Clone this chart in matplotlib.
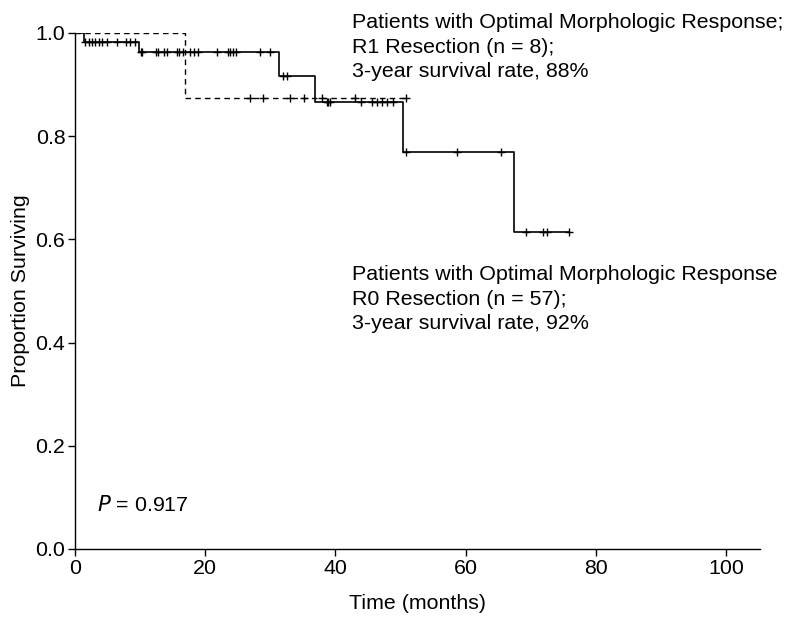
import numpy as np
import matplotlib.pyplot as plt

plt.rcParams['font.family'] = ['Liberation Sans', 'DejaVu Sans']

# R0 resection (solid): step times and survival after each step
r0_times = [0, 1.4, 9.8, 31.3, 36.8, 50.4, 67.4, 75.8]
r0_surv = [1.0, 0.983, 0.963, 0.917, 0.866, 0.770, 0.615, 0.615]
r0_censored = [1.6, 2.2, 2.6, 3.1, 3.7, 4.1, 4.9, 6.4, 7.9, 8.4, 9.2,
               10.1, 10.3, 12.5, 12.8, 13.6, 14.1, 15.6, 15.9, 16.6, 17.7,
               18.2, 18.9, 21.8, 23.5, 23.8, 24.3, 24.8, 28.4, 30.0,
               32.0, 32.5,
               38.7, 38.9, 39.2, 43.9, 45.6, 46.4, 47.1, 47.9, 48.9,
               50.8, 58.6, 65.4,
               69.3, 71.8, 72.5, 75.8]

# R1 resection (dashed)
r1_times = [0, 16.9, 50.8]
r1_surv = [1.0, 0.875, 0.875]
r1_censored = [26.9, 28.8, 33.0, 35.1, 37.9, 43.0, 50.8]


def level_at(times, surv, t):
    idx = np.searchsorted(times, t, side='right') - 1
    return np.array(surv)[idx]


fs = 15.4

fig = plt.figure(figsize=(7.91, 6.21), dpi=100)
ax = fig.add_axes([75 / 791, 1 - 549 / 621, 685 / 791, 516 / 621])

ax.step(r0_times, r0_surv, where='post', color='black', lw=1.2)
ax.plot(r0_censored, level_at(r0_times, r0_surv, r0_censored), '+',
        color='black', ms=6, mew=1)

ax.step(r1_times, r1_surv, where='post', color='black', lw=1.0,
        linestyle=(0, (4, 3)))
ax.plot(r1_censored, level_at(r1_times, r1_surv, r1_censored), '+',
        color='black', ms=6, mew=1)

ax.set_xlim(0, 105.2)
ax.set_ylim(0, 1.0)
ax.set_xticks([0, 20, 40, 60, 80, 100])
ax.set_yticks([0.0, 0.2, 0.4, 0.6, 0.8, 1.0])
ax.set_yticklabels(['0.0', '0.2', '0.4', '0.6', '0.8', '1.0'])
ax.tick_params(direction='out', length=5, width=1, labelsize=fs, pad=2)
for s in ['top', 'right']:
    ax.spines[s].set_visible(False)
for s in ['left', 'bottom']:
    ax.spines[s].set_linewidth(1.0)

ax.set_xlabel('Time (months)', fontsize=fs, labelpad=12)
ax.set_ylabel('Proportion Surviving', fontsize=fs, labelpad=4)

ax.text(352 / 791, 1 - 13 / 621,
        'Patients with Optimal Morphologic Response;\nR1 Resection (n = 8);\n3-year survival rate, 88%',
        fontsize=fs, va='top', ha='left', linespacing=1.38,
        transform=fig.transFigure)
ax.text(352 / 791, 1 - 265 / 621,
        'Patients with Optimal Morphologic Response\nR0 Resection (n = 57);\n3-year survival rate, 92%',
        fontsize=fs, va='top', ha='left', linespacing=1.38,
        transform=fig.transFigure)
ax.text(97 / 791, 1 - 505 / 621, r'$\it{P}$ = 0.917', fontsize=fs,
        va='center', ha='left', transform=fig.transFigure)

fig.savefig('out.png', dpi=100)
